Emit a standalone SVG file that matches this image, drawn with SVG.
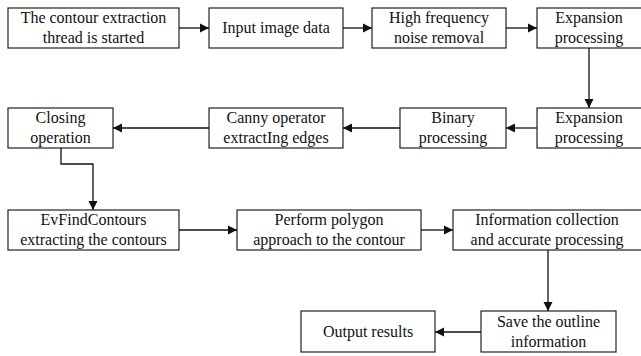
<svg xmlns="http://www.w3.org/2000/svg" width="641" height="356" viewBox="0 0 641 356">
<defs>
<marker id="ah" markerWidth="10" markerHeight="10" refX="9" refY="5" orient="auto" markerUnits="userSpaceOnUse">
<path d="M0,0.5 L9,5 L0,9.5 Z" fill="#111"/>
</marker>
</defs>
<rect width="641" height="356" fill="#fff"/>
<g id="nodes" font-family="Liberation Serif" font-size="16" text-anchor="middle">
<g id="n1"><rect fill="#fff" stroke="#222" stroke-width="1.2" x="8" y="8" width="171" height="40"/><text fill="#111" x="93.5" y="23">The contour extraction</text><text fill="#111" x="93.5" y="43">thread is started</text></g>
<g id="n2"><rect fill="#fff" stroke="#222" stroke-width="1.2" x="209" y="8" width="134" height="40"/><text fill="#111" x="276" y="33">Input image data</text></g>
<g id="n3"><rect fill="#fff" stroke="#222" stroke-width="1.2" x="372" y="8" width="134" height="40"/><text fill="#111" x="439" y="23">High frequency</text><text fill="#111" x="439" y="43">noise removal</text></g>
<g id="n4"><rect fill="#fff" stroke="#222" stroke-width="1.2" x="537" y="8" width="110" height="40"/><text fill="#111" x="589" y="23">Expansion</text><text fill="#111" x="589" y="43">processing</text></g>
<g id="n5"><rect fill="#fff" stroke="#222" stroke-width="1.2" x="537" y="108" width="110" height="40"/><text fill="#111" x="589" y="123">Expansion</text><text fill="#111" x="589" y="143">processing</text></g>
<g id="n6"><rect fill="#fff" stroke="#222" stroke-width="1.2" x="400" y="108" width="106" height="40"/><text fill="#111" x="453" y="123">Binary</text><text fill="#111" x="453" y="143">processing</text></g>
<g id="n7"><rect fill="#fff" stroke="#222" stroke-width="1.2" x="209" y="108" width="134" height="40"/><text fill="#111" x="276" y="123">Canny operator</text><text fill="#111" x="276" y="143">extractIng edges</text></g>
<g id="n8"><rect fill="#fff" stroke="#222" stroke-width="1.2" x="8" y="108" width="105" height="40"/><text fill="#111" x="60.5" y="123">Closing</text><text fill="#111" x="60.5" y="143">operation</text></g>
<g id="n9"><rect fill="#fff" stroke="#222" stroke-width="1.2" x="8" y="210" width="171" height="40"/><text fill="#111" x="93.5" y="225">EvFindContours</text><text fill="#111" x="93.5" y="245">extracting the contours</text></g>
<g id="n10"><rect fill="#fff" stroke="#222" stroke-width="1.2" x="237" y="210" width="184" height="40"/><text fill="#111" x="329" y="225">Perform polygon</text><text fill="#111" x="329" y="245">approach to the contour</text></g>
<g id="n11"><rect fill="#fff" stroke="#222" stroke-width="1.2" x="453" y="210" width="192" height="40"/><text fill="#111" x="547" y="225">Information collection</text><text fill="#111" x="547" y="245">and accurate processing</text></g>
<g id="n12"><rect fill="#fff" stroke="#222" stroke-width="1.2" x="481" y="311" width="135" height="41"/><text fill="#111" x="548.5" y="327">Save the outline</text><text fill="#111" x="548.5" y="347">information</text></g>
<g id="n13"><rect fill="#fff" stroke="#222" stroke-width="1.2" x="301" y="311" width="134" height="41"/><text fill="#111" x="368" y="337">Output results</text></g>
</g>
<g id="connectors" fill="none" stroke="#111" stroke-width="1.3">
<line x1="179" y1="28" x2="209" y2="28" marker-end="url(#ah)"/>
<line x1="343" y1="28" x2="372" y2="28" marker-end="url(#ah)"/>
<line x1="506" y1="28" x2="537" y2="28" marker-end="url(#ah)"/>
<line x1="589" y1="48" x2="589" y2="108" marker-end="url(#ah)"/>
<line x1="537" y1="128" x2="506" y2="128" marker-end="url(#ah)"/>
<line x1="400" y1="128" x2="343" y2="128" marker-end="url(#ah)"/>
<line x1="209" y1="128" x2="113" y2="128" marker-end="url(#ah)"/>
<polyline points="61,148 61,164 93,164 93,210" marker-end="url(#ah)"/>
<line x1="179" y1="230" x2="237" y2="230" marker-end="url(#ah)"/>
<line x1="421" y1="230" x2="453" y2="230" marker-end="url(#ah)"/>
<line x1="548" y1="250" x2="548" y2="311" marker-end="url(#ah)"/>
<line x1="481" y1="332" x2="435" y2="332" marker-end="url(#ah)"/>
</g>
</svg>
